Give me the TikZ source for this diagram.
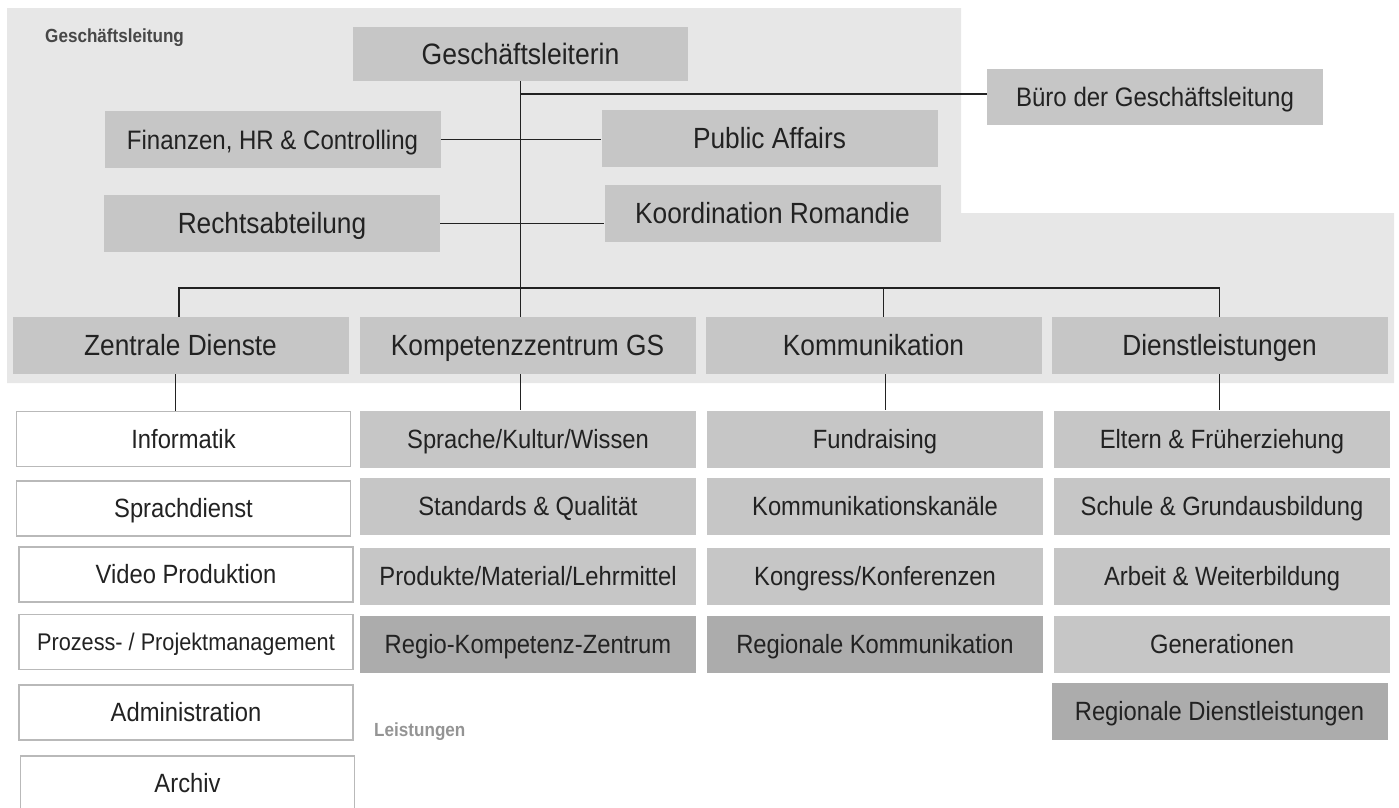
\documentclass[tikz,border=0pt]{standalone}
\usepackage{fontspec}
\setmainfont[FakeStretch=0.9]{Liberation Sans}
\usepackage{tikz}
\usetikzlibrary{calc}
\definecolor{bggray}{HTML}{E7E7E7}
\definecolor{boxgray}{HTML}{C6C6C6}
\definecolor{regiogray}{HTML}{ACACAC}
\definecolor{framegray}{HTML}{B9B9B9}
\definecolor{inkgray}{HTML}{222222}

\begin{document}
\begin{tikzpicture}[x=1pt,y=-1pt,
    box/.style={fill=boxgray,text=inkgray,minimum width=336pt,minimum height=57pt,inner sep=0pt,
      text depth=0pt,text height=18.9pt,font=\fontsize{26.4}{30}\selectfont},
    head/.style={minimum width=335pt,minimum height=54pt,text height=21.1pt,font=\fontsize{29.5}{34}\selectfont},
    side/.style={text height=20.9pt,font=\fontsize{29.2}{34}\selectfont},
    narrow/.style={text height=19.1pt,font=\fontsize{26.7}{30}\selectfont},
    dept/.style={text height=20.9pt,font=\fontsize{29.2}{34}\selectfont},
    unit/.style={fill=white,draw=framegray,line width=1.2pt,minimum width=334pt,minimum height=55pt},
    regio/.style={fill=regiogray},
    caption/.style={anchor=west,inner sep=0pt,font=\fontsize{19}{23}\selectfont\bfseries},
    conn/.style={draw=inkgray,line width=1.9pt}]
                 \useasboundingbox(0,0)rectangle(1399,807);
                 \fill[bggray](7,8)--(961,8)--(961,213)--(1394,213)--(1394,383)--(7,383)--cycle;
                 \node[caption,text=black!72](gltitle)at(45,38){Geschäftsleitung};
                 \node[box,head](gl)at(520.5,54){Geschäftsleiterin};
                 \node[box,narrow](fin)at(272.5,139.5){Finanzen, HR \& Controlling};
                 \node[box,side](recht)at(272,223.5){Rechtsabteilung};
                 \node[box,side](pa)at(769.5,138){Public Affairs};
                 \node[box,side](kr)at(772.5,213.5){Koordination Romandie};
                 \node[box,narrow,minimum height=56pt](buero)at(1155,97){Büro der Geschäftsleitung};
                 \node[box,dept](zd)at(180.5,345.5){Zentrale Dienste};
                 \node[box,dept](kz)at(527.5,345.5){Kompetenzzentrum GS};
                 \node[box,dept](ko)at(873.5,345.5){Kommunikation};
                 \node[box,dept](dl)at(1219.5,345.5){Dienstleistungen};
                 \node[box,unit](inf)at(183.5,439){Informatik};
                 \node[box,unit](spr)at(183.5,508.5){Sprachdienst};
                 \node[box,unit](vid)at(186,574.5){Video Produktion};
                 \node[box,unit,text height=17.3pt,font=\fontsize{24.1}{28}\selectfont](proz)at(186,642){Prozess- / Projektmanagement};
                 \node[box,unit](adm)at(186,712.5){Administration};
                 \node[box,unit](arch)at(187.5,783.5){Archiv};
                 \node[box](skw)at(528,439){Sprache/Kultur/Wissen};
                 \node[box](sq)at(528,506.5){Standards \& Qualität};
                 \node[box](pml)at(528,576.5){Produkte/Material/Lehrmittel};
                 \node[box,regio](rkz)at(528,644.5){Regio-Kompetenz-Zentrum};
                 \node[box](fund)at(875,439){Fundraising};
                 \node[box](kk)at(875,506.5){Kommunikationskanäle};
                 \node[box](kon)at(875,576){Kongress/Konferenzen};
                 \node[box,regio](rk)at(875,644.5){Regionale Kommunikation};
                 \node[box](efe)at(1222,439){Eltern \& Früherziehung};
                 \node[box](sgb)at(1222,506.5){Schule \& Grundausbildung};
                 \node[box](awb)at(1222,576){Arbeit \& Weiterbildung};
                 \node[box](gen)at(1222,644.5){Generationen};
                 \node[box,regio](rdl)at(1219.5,711.5){Regionale Dienstleistungen};
                 \node[caption,text=black!42](lst)at(374,732){Leistungen};
                 \coordinate(bus)at(520.5,288);
                 \draw[conn](gl.south)--(gl.south|-kz.north);
                 \draw[conn]([yshift=3pt]buero.west)--([yshift=3pt]buero.west-|gl.south);
                 \draw[conn](fin.east)--(fin.east-|pa.west);
                 \draw[conn](recht.east)--(recht.east-|kr.west);
                 \draw[conn]([xshift=-1.5pt]zd.north)|-(bus)-|(dl.north);
                 \draw[conn]([xshift=10pt]ko.north)--([xshift=10pt]ko.north|-bus);
                 \draw[conn]([xshift=-5pt]zd.south)--([xshift=-5pt]zd.south|-inf.north);
                 \draw[conn](kz.south-|gl.south)--(skw.north-|gl.south);
                 \draw[conn]([xshift=12pt]ko.south)--([xshift=12pt]ko.south|-fund.north);
                 \draw[conn](dl.south)--(dl.south|-efe.north);
               \end{tikzpicture}
\end{document}
